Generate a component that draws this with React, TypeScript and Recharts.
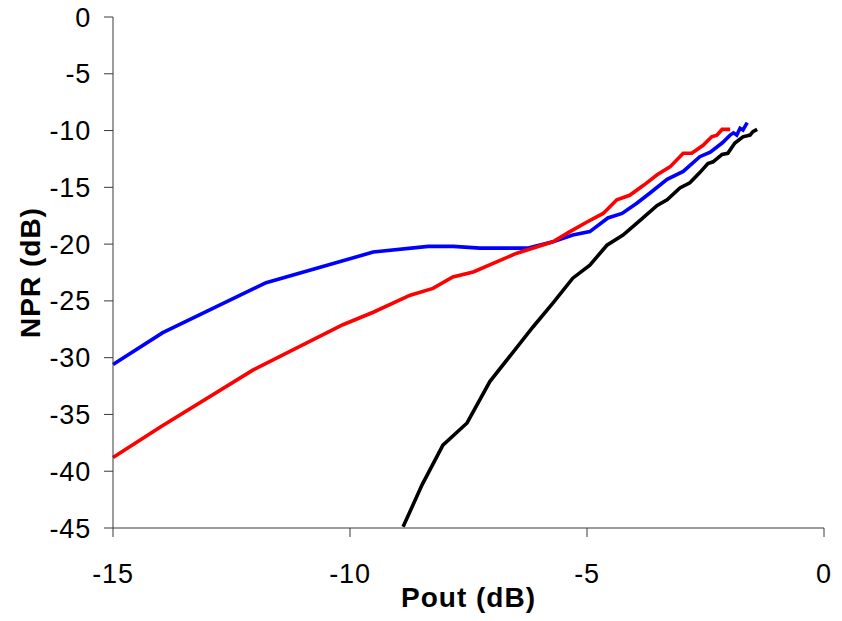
import { CartesianGrid, Label, Line, LineChart, XAxis, YAxis } from "recharts"

// Pout (dB) / NPR (dB)
const blueX = [-15, -13.95, -11.77, -9.51, -8.35, -7.82, -7.26, -6.24, -5.72, -5.3, -4.94, -4.56, -4.26, -3.95, -3.67, -3.31, -2.97, -2.62, -2.4, -2.15, -1.98, -1.91, -1.84, -1.77, -1.71, -1.62]
const blueY = [-30.6, -27.8, -23.4, -20.7, -20.2, -20.2, -20.35, -20.35, -19.8, -19.2, -18.9, -17.7, -17.3, -16.4, -15.5, -14.3, -13.6, -12.3, -11.9, -11.1, -10.4, -10.2, -10.4, -9.8, -9.95, -9.3]

const redX = [-15, -14.0, -12.05, -10.15, -9.51, -8.73, -8.25, -7.83, -7.4, -6.48, -5.72, -5.36, -5.0, -4.66, -4.37, -4.1, -3.8, -3.52, -3.25, -2.97, -2.79, -2.55, -2.37, -2.26, -2.15, -1.98]
const redY = [-38.8, -36.1, -31.1, -27.1, -26.0, -24.5, -23.9, -22.9, -22.45, -20.8, -19.8, -18.9, -18.05, -17.3, -16.1, -15.7, -14.8, -13.9, -13.2, -12.0, -12.0, -11.3, -10.55, -10.4, -9.9, -9.9]

const blackX = [-8.88, -8.48, -8.04, -7.53, -7.05, -6.14, -5.72, -5.3, -4.94, -4.58, -4.24, -3.88, -3.52, -3.31, -3.04, -2.83, -2.62, -2.45, -2.34, -2.15, -2.03, -1.88, -1.71, -1.56, -1.5, -1.41]
const blackY = [-44.9, -41.2, -37.7, -35.75, -32.1, -27.3, -25.2, -23.0, -21.85, -20.1, -19.2, -17.9, -16.6, -16.1, -15.05, -14.6, -13.7, -12.9, -12.75, -12.1, -12.0, -11.1, -10.55, -10.4, -10.1, -9.9]

const xTicks = [-15, -10, -5, 0]
const yTicks = [0, -5, -10, -15, -20, -25, -30, -35, -40, -45]

const toRows = (xs: number[], ys: number[]) =>
  xs.map((x, i) => ({ x, y: ys[i] }))

const blueData = toRows(blueX, blueY)
const redData = toRows(redX, redY)
const blackData = toRows(blackX, blackY)

const font = "'Liberation Sans', Arial, sans-serif"
const tickStyle = { fontSize: 27, fill: "#000", fontFamily: font, letterSpacing: 0.8 }
const titleStyle = { fontSize: 28, fontWeight: "bold", fill: "#000", fontFamily: font, letterSpacing: 1 }

export default function App() {
  return (
    <div style={{ position: "fixed", top: 0, left: 0, background: "#fff" }}>
      <LineChart
        width={842}
        height={621}
        margin={{ top: 17, right: 18, left: 0, bottom: 0 }}
      >
        <CartesianGrid stroke="none" />

        <XAxis
          type="number"
          dataKey="x"
          domain={[-15, 0]}
          ticks={xTicks}
          height={93}
          stroke="#3a3a3a"
          tickSize={9}
          tickMargin={27}
          tick={tickStyle}
        >
          <Label
            value="Pout (dB)"
            position="insideBottom"
            offset={14}
            style={titleStyle}
          />
        </XAxis>

        <YAxis
          type="number"
          dataKey="y"
          domain={[-45, 0]}
          ticks={yTicks}
          width={113}
          stroke="#3a3a3a"
          tickSize={9}
          tickMargin={13}
          tick={tickStyle}
        >
          <Label
            value="NPR (dB)"
            angle={-90}
            position="insideLeft"
            offset={30}
            style={{ ...titleStyle, textAnchor: "middle" }}
          />
        </YAxis>

        <Line
          data={blueData}
          dataKey="y"
          type="linear"
          stroke="#0000ff"
          strokeWidth={3.6}
          dot={false}
          isAnimationActive={false}
        />
        <Line
          data={redData}
          dataKey="y"
          type="linear"
          stroke="#ff0000"
          strokeWidth={3.6}
          dot={false}
          isAnimationActive={false}
        />
        <Line
          data={blackData}
          dataKey="y"
          type="linear"
          stroke="#000000"
          strokeWidth={3.6}
          dot={false}
          isAnimationActive={false}
        />
      </LineChart>
    </div>
  )
}
